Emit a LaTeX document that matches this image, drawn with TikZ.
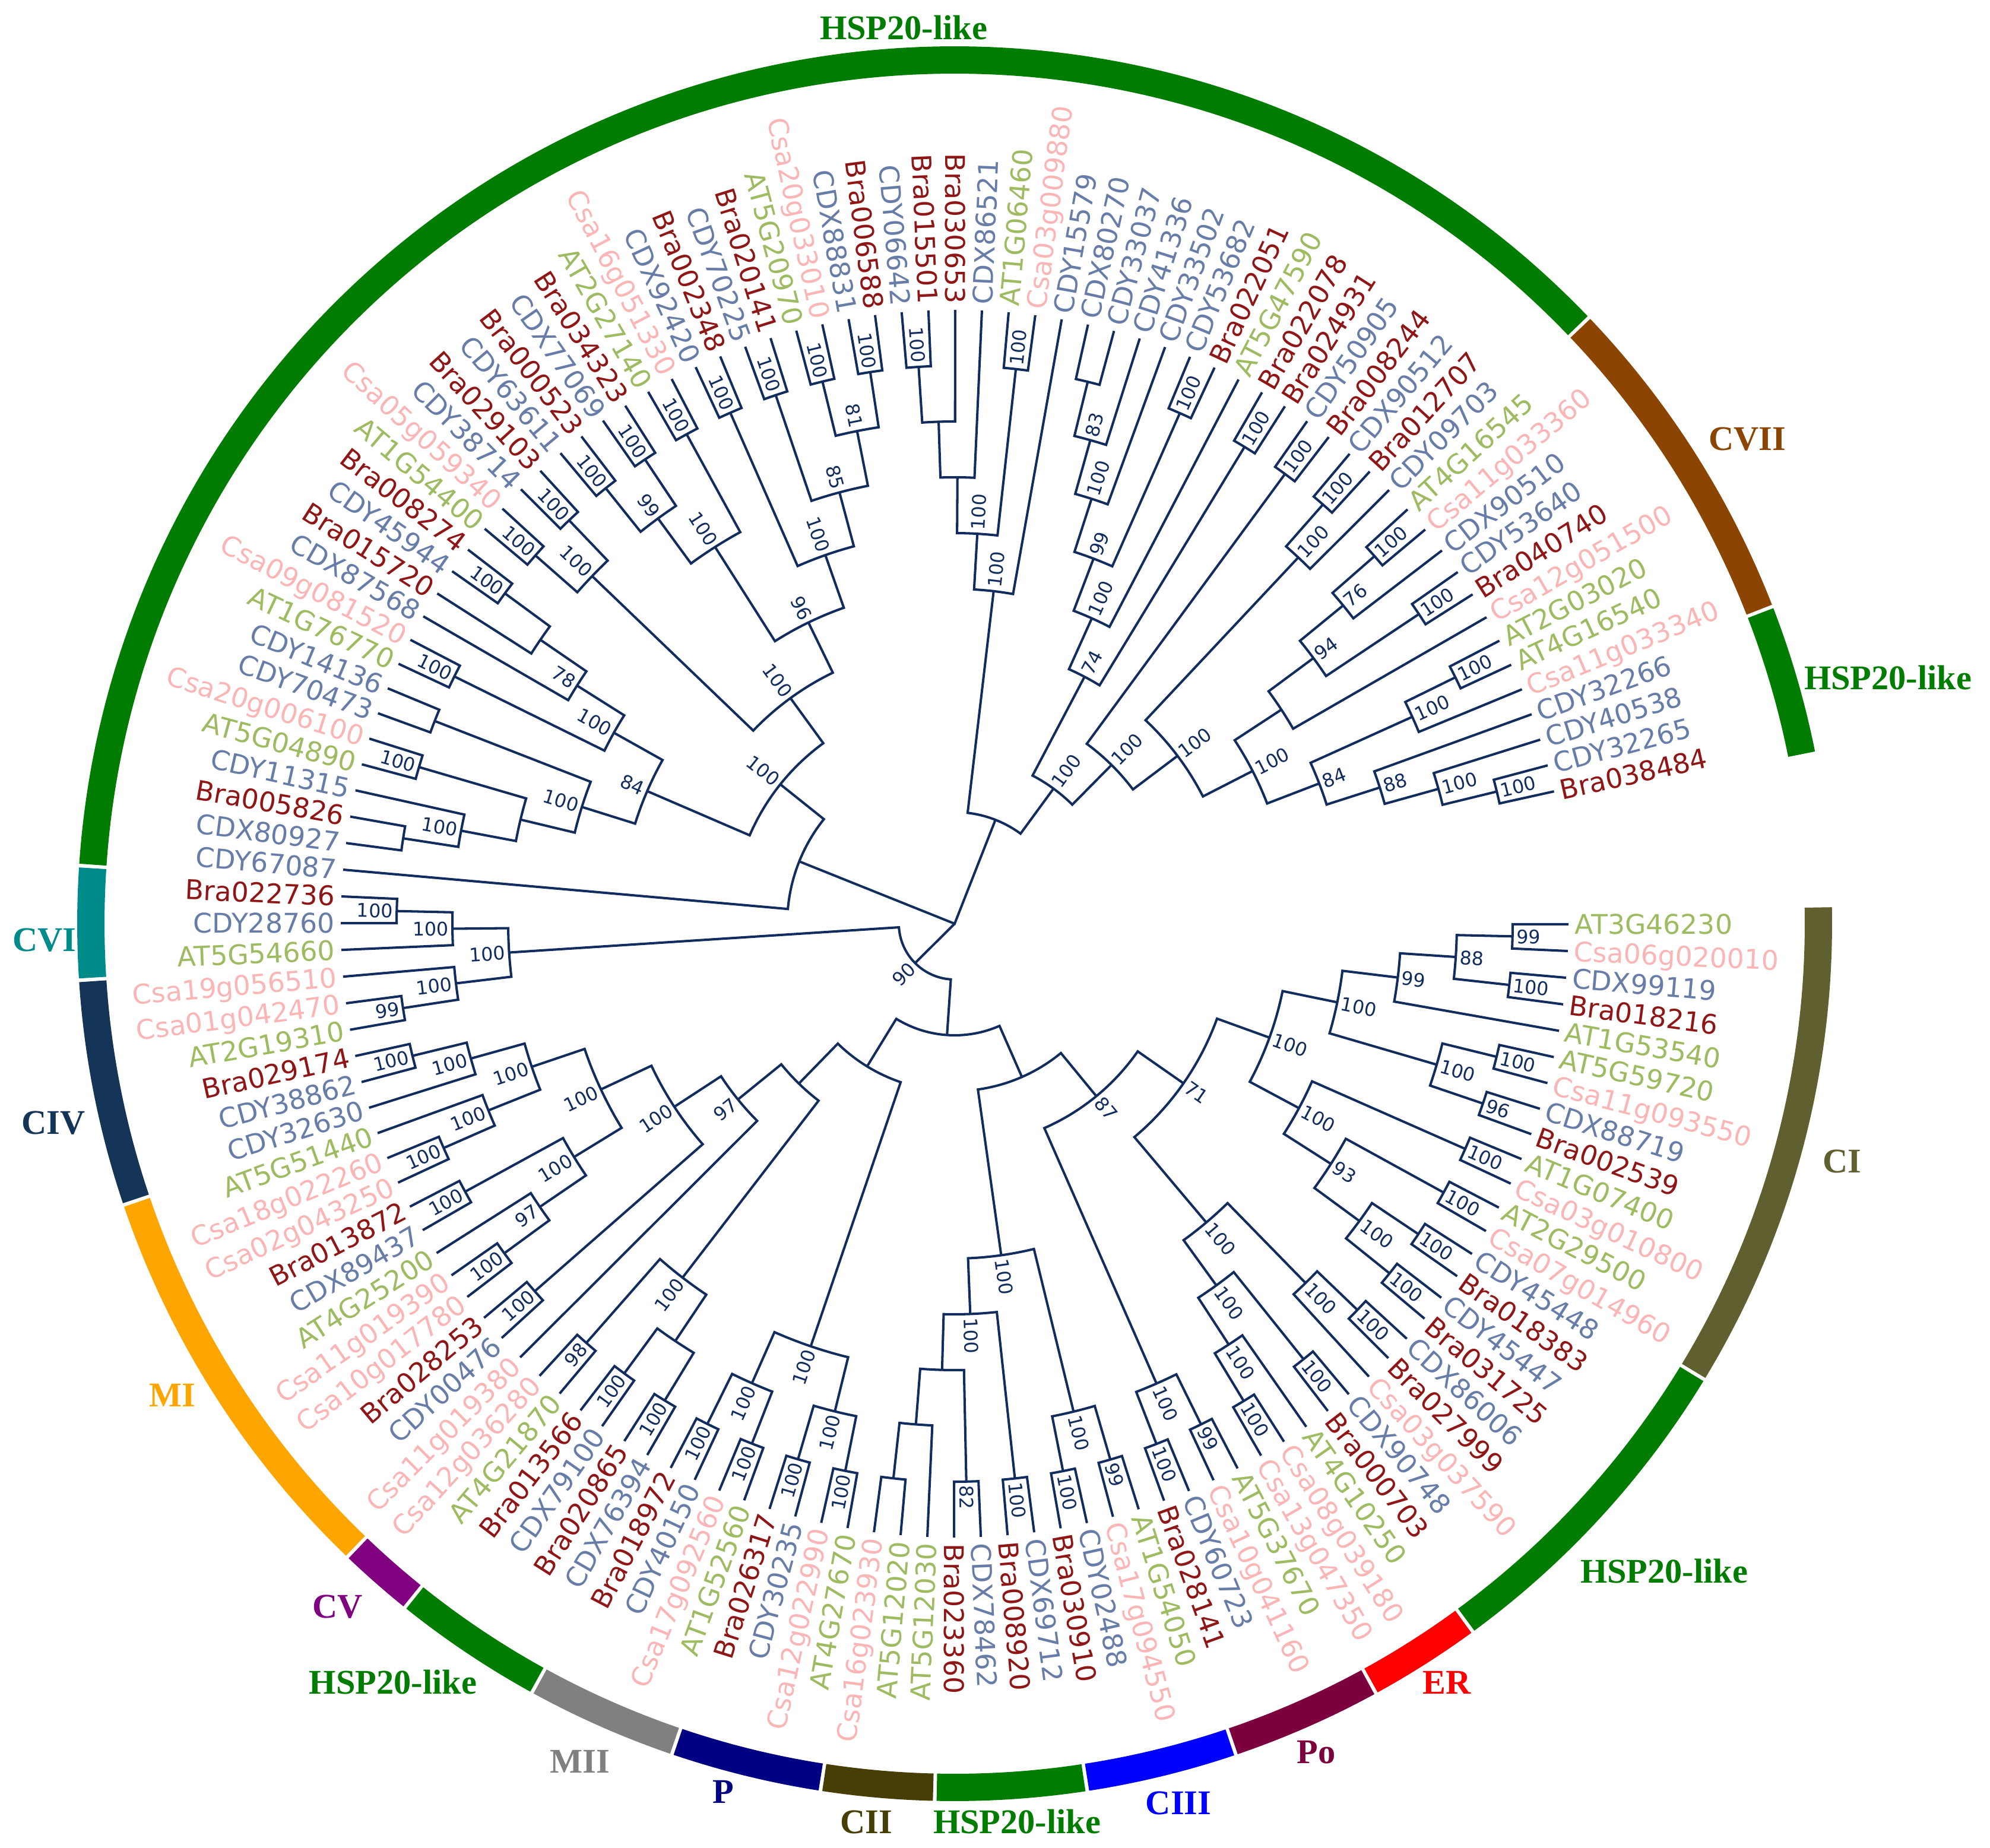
\documentclass[tikz,border=0pt]{standalone}
\usepackage{fontspec}
\usepackage{tikz}
\newfontfamily\leaffont{DejaVu Sans}
\newfontfamily\ringfont{Liberation Serif}

\definecolor{treeblue}{RGB}{18,44,94}
\definecolor{atcol}{RGB}{158,187,98}
\definecolor{csacol}{RGB}{250,182,182}
\definecolor{bracol}{RGB}{142,22,22}
\definecolor{cdcol}{RGB}{104,124,168}
\definecolor{hspcol}{RGB}{0,125,0}
\definecolor{cviicol}{RGB}{139,69,0}
\definecolor{cicol}{RGB}{95,95,48}
\definecolor{ercol}{RGB}{255,0,0}
\definecolor{pocol}{RGB}{125,0,62}
\definecolor{ciiicol}{RGB}{0,0,255}
\definecolor{ciicol}{RGB}{70,62,5}
\definecolor{pcol}{RGB}{0,0,130}
\definecolor{miicol}{RGB}{128,128,128}
\definecolor{cvcol}{RGB}{128,0,128}
\definecolor{micol}{RGB}{255,165,0}
\definecolor{civcol}{RGB}{20,52,88}
\definecolor{cvicol}{RGB}{0,139,139}

% circle geometry (cm, centre of the tree at the origin)
\newcommand{\tiprad}{10.34}
\newcommand{\levstep}{0.94}
\newcommand{\leafstart}{12.45}
\newcommand{\leafstep}{2.5}
\newcommand{\ringrad}{14.55}

% text set along the radius, flipped on the left half
\newcommand{\radlabel}[5]{%
  \pgfmathsetmacro{\rlrot}{#2}%
  \ifdim#2pt>89.9pt
    \ifdim#2pt<269.9pt
      \pgfmathsetmacro{\rlrot}{#2-180}%
      \node[#4,anchor=east,rotate=\rlrot] (#1) at (#2:#3) {#5};
    \else
      \node[#4,anchor=west,rotate=\rlrot] (#1) at (#2:#3) {#5};
    \fi
  \else
    \node[#4,anchor=west,rotate=\rlrot] (#1) at (#2:#3) {#5};
  \fi}

% leaf: index, name, style
\newcommand{\addleaf}[3]{%
  \pgfmathsetmacro{\lfa}{\leafstart+(#1-1)*\leafstep}%
  \expandafter\xdef\csname ang@L#1\endcsname{\lfa}%
  \coordinate (L#1) at (\lfa:\tiprad);
  \pgfmathsetmacro{\lfr}{\tiprad+0.1}%
  \radlabel{lab#1}{\lfa}{\lfr}{#3}{#2}}

% clade: name, level, child a, child b, support
\newcommand{\addclade}[5]{%
  \edef\clA{\csname ang@#3\endcsname}\edef\clB{\csname ang@#4\endcsname}%
  \pgfmathsetmacro{\clM}{(\clA+\clB)/2}%
  \pgfmathsetmacro{\clR}{\tiprad-#2*\levstep}%
  \expandafter\xdef\csname ang@#1\endcsname{\clM}%
  \coordinate (#1) at (\clM:\clR);
  \draw[branch] (#3) -- (\clA:\clR) arc[start angle=\clA,end angle=\clB,radius=\clR] -- (#4);
  \ifx\relax#5\relax\else
    \pgfmathsetmacro{\clL}{\clR+0.06}%
    \radlabel{b#1}{\clM}{\clL}{bootlab}{#5}%
  \fi}

% coloured band: first leaf, last leaf, colour
\newcommand{\addring}[3]{%
  \pgfmathsetmacro{\rgA}{\leafstart+(#1-1)*\leafstep-1.13}%
  \pgfmathsetmacro{\rgB}{\leafstart+(#2-1)*\leafstep+1.13}%
  \draw[ringarc,draw=#3] (\rgA:\ringrad) arc[start angle=\rgA,end angle=\rgB,radius=\ringrad];}

\begin{document}
\begin{tikzpicture}[
    branch/.style={draw=treeblue,line width=1.15pt},
% leaf labels
    leaftext/.style={inner sep=0pt,text height=9.5pt,text depth=0pt,
		font=\leaffont\fontsize{13pt}{15pt}\selectfont},
    atleaf/.style={leaftext,text=atcol},
    csaleaf/.style={leaftext,text=csacol},
    braleaf/.style={leaftext,text=bracol},
    cdleaf/.style={leaftext,text=cdcol},
    bootlab/.style={inner sep=0pt,text height=6.6pt,text depth=0pt,text=treeblue,
		font=\leaffont\fontsize{9pt}{11pt}\selectfont},
    ringlab/.style={inner sep=0pt,font=\ringfont\bfseries\fontsize{16.6pt}{20pt}\selectfont}
    ]

  \tikzstyle{ringarc} = [line width=0.46cm]

  \useasboundingbox (-16.08,-15.56) rectangle (17.44,15.56);

  % leaves, counter-clockwise from the gap on the right
  \addleaf{1}{Bra038484}{braleaf} \addleaf{2}{CDY32265}{cdleaf} \addleaf{3}{CDY40538}{cdleaf}
  \addleaf{4}{CDY32266}{cdleaf} \addleaf{5}{Csa11g033340}{csaleaf} \addleaf{6}{AT4G16540}{atleaf}
  \addleaf{7}{AT2G03020}{atleaf} \addleaf{8}{Csa12g051500}{csaleaf} \addleaf{9}{Bra040740}{braleaf}
  \addleaf{10}{CDY53640}{cdleaf} \addleaf{11}{CDX90510}{cdleaf} \addleaf{12}{Csa11g033360}{csaleaf}
  \addleaf{13}{AT4G16545}{atleaf} \addleaf{14}{CDY09703}{cdleaf} \addleaf{15}{Bra012707}{braleaf}
  \addleaf{16}{CDX90512}{cdleaf} \addleaf{17}{Bra008244}{braleaf} \addleaf{18}{CDY50905}{cdleaf}
  \addleaf{19}{Bra024931}{braleaf} \addleaf{20}{Bra022078}{braleaf} \addleaf{21}{AT5G47590}{atleaf}
  \addleaf{22}{Bra022051}{braleaf} \addleaf{23}{CDY53682}{cdleaf} \addleaf{24}{CDY33502}{cdleaf}
  \addleaf{25}{CDY41336}{cdleaf} \addleaf{26}{CDY33037}{cdleaf} \addleaf{27}{CDX80270}{cdleaf}
  \addleaf{28}{CDY15579}{cdleaf} \addleaf{29}{Csa03g009880}{csaleaf} \addleaf{30}{AT1G06460}{atleaf}
  \addleaf{31}{CDX86521}{cdleaf} \addleaf{32}{Bra030653}{braleaf} \addleaf{33}{Bra015501}{braleaf}
  \addleaf{34}{CDY06642}{cdleaf} \addleaf{35}{Bra006588}{braleaf} \addleaf{36}{CDX88831}{cdleaf}
  \addleaf{37}{Csa20g033010}{csaleaf} \addleaf{38}{AT5G20970}{atleaf} \addleaf{39}{Bra020141}{braleaf}
  \addleaf{40}{CDY70225}{cdleaf} \addleaf{41}{Bra002348}{braleaf} \addleaf{42}{CDX92420}{cdleaf}
  \addleaf{43}{Csa16g051330}{csaleaf} \addleaf{44}{AT2G27140}{atleaf} \addleaf{45}{Bra034323}{braleaf}
  \addleaf{46}{CDX77069}{cdleaf} \addleaf{47}{Bra000523}{braleaf} \addleaf{48}{CDY63611}{cdleaf}
  \addleaf{49}{Bra029103}{braleaf} \addleaf{50}{CDY38714}{cdleaf} \addleaf{51}{Csa05g059340}{csaleaf}
  \addleaf{52}{AT1G54400}{atleaf} \addleaf{53}{Bra008274}{braleaf} \addleaf{54}{CDY45944}{cdleaf}
  \addleaf{55}{Bra015720}{braleaf} \addleaf{56}{CDX87568}{cdleaf} \addleaf{57}{Csa09g081520}{csaleaf}
  \addleaf{58}{AT1G76770}{atleaf} \addleaf{59}{CDY14136}{cdleaf} \addleaf{60}{CDY70473}{cdleaf}
  \addleaf{61}{Csa20g006100}{csaleaf} \addleaf{62}{AT5G04890}{atleaf} \addleaf{63}{CDY11315}{cdleaf}
  \addleaf{64}{Bra005826}{braleaf} \addleaf{65}{CDX80927}{cdleaf} \addleaf{66}{CDY67087}{cdleaf}
  \addleaf{67}{Bra022736}{braleaf} \addleaf{68}{CDY28760}{cdleaf} \addleaf{69}{AT5G54660}{atleaf}
  \addleaf{70}{Csa19g056510}{csaleaf} \addleaf{71}{Csa01g042470}{csaleaf} \addleaf{72}{AT2G19310}{atleaf}
  \addleaf{73}{Bra029174}{braleaf} \addleaf{74}{CDY38862}{cdleaf} \addleaf{75}{CDY32630}{cdleaf}
  \addleaf{76}{AT5G51440}{atleaf} \addleaf{77}{Csa18g022260}{csaleaf} \addleaf{78}{Csa02g043250}{csaleaf}
  \addleaf{79}{Bra013872}{braleaf} \addleaf{80}{CDX89437}{cdleaf} \addleaf{81}{AT4G25200}{atleaf}
  \addleaf{82}{Csa11g019390}{csaleaf} \addleaf{83}{Csa10g017780}{csaleaf} \addleaf{84}{Bra028253}{braleaf}
  \addleaf{85}{CDY00476}{cdleaf} \addleaf{86}{Csa11g019380}{csaleaf} \addleaf{87}{Csa12g036280}{csaleaf}
  \addleaf{88}{AT4G21870}{atleaf} \addleaf{89}{Bra013566}{braleaf} \addleaf{90}{CDX79100}{cdleaf}
  \addleaf{91}{Bra020865}{braleaf} \addleaf{92}{CDX76394}{cdleaf} \addleaf{93}{Bra018972}{braleaf}
  \addleaf{94}{CDY40150}{cdleaf} \addleaf{95}{Csa17g092560}{csaleaf} \addleaf{96}{AT1G52560}{atleaf}
  \addleaf{97}{Bra026317}{braleaf} \addleaf{98}{CDY30235}{cdleaf} \addleaf{99}{Csa12g022990}{csaleaf}
  \addleaf{100}{AT4G27670}{atleaf} \addleaf{101}{Csa16g023930}{csaleaf} \addleaf{102}{AT5G12020}{atleaf}
  \addleaf{103}{AT5G12030}{atleaf} \addleaf{104}{Bra023360}{braleaf} \addleaf{105}{CDX78462}{cdleaf}
  \addleaf{106}{Bra008920}{braleaf} \addleaf{107}{CDX69712}{cdleaf} \addleaf{108}{Bra030910}{braleaf}
  \addleaf{109}{CDY02488}{cdleaf} \addleaf{110}{Csa17g094550}{csaleaf} \addleaf{111}{AT1G54050}{atleaf}
  \addleaf{112}{Bra028141}{braleaf} \addleaf{113}{CDY60723}{cdleaf} \addleaf{114}{Csa10g041160}{csaleaf}
  \addleaf{115}{AT5G37670}{atleaf} \addleaf{116}{Csa13g047350}{csaleaf} \addleaf{117}{Csa08g039180}{csaleaf}
  \addleaf{118}{AT4G10250}{atleaf} \addleaf{119}{Bra000703}{braleaf} \addleaf{120}{CDX90748}{cdleaf}
  \addleaf{121}{Csa03g037590}{csaleaf} \addleaf{122}{Bra027999}{braleaf} \addleaf{123}{CDX86006}{cdleaf}
  \addleaf{124}{Bra031725}{braleaf} \addleaf{125}{CDY45447}{cdleaf} \addleaf{126}{Bra018383}{braleaf}
  \addleaf{127}{CDY45448}{cdleaf} \addleaf{128}{Csa07g014960}{csaleaf} \addleaf{129}{AT2G29500}{atleaf}
  \addleaf{130}{Csa03g010800}{csaleaf} \addleaf{131}{AT1G07400}{atleaf} \addleaf{132}{Bra002539}{braleaf}
  \addleaf{133}{CDX88719}{cdleaf} \addleaf{134}{Csa11g093550}{csaleaf} \addleaf{135}{AT5G59720}{atleaf}
  \addleaf{136}{AT1G53540}{atleaf} \addleaf{137}{Bra018216}{braleaf} \addleaf{138}{CDX99119}{cdleaf}
  \addleaf{139}{Csa06g020010}{csaleaf} \addleaf{140}{AT3G46230}{atleaf}

  % upper right clades
  \addclade{n1}{1}{L1}{L2}{100}
  \addclade{n2}{2}{n1}{L3}{100}
  \addclade{n3}{3}{n2}{L4}{88}
  \addclade{n4}{1}{L6}{L7}{100}
  \addclade{n5}{2}{L5}{n4}{100}
  \addclade{n6}{4}{n3}{n5}{84}
  \addclade{n7}{1}{L9}{L10}{100}
  \addclade{n8}{1}{L12}{L13}{100}
  \addclade{n9}{2}{L11}{n8}{76}
  \addclade{n10}{3}{n7}{n9}{94}
  \addclade{n11}{4}{L8}{n10}{}
  \addclade{n12}{5}{n6}{n11}{100}
  \addclade{n13}{1}{L15}{L16}{100}
  \addclade{n14}{2}{L14}{n13}{100}
  \addclade{n15}{6}{n12}{n14}{100}
  \addclade{n16}{1}{L17}{L18}{100}
  \addclade{n17}{7}{n15}{n16}{100}
  \addclade{n18}{1}{L19}{L20}{100}
  \addclade{n19}{1}{L22}{L23}{100}
  \addclade{n20}{1}{L26}{L27}{}
  \addclade{n21}{2}{L25}{n20}{83}
  \addclade{n22}{3}{L24}{n21}{100}
  \addclade{n23}{4}{n19}{n22}{99}
  \addclade{n24}{5}{L21}{n23}{100}
  \addclade{n25}{6}{n18}{n24}{74}
  \addclade{n26}{8}{n17}{n25}{100}
  \addclade{n27}{1}{L33}{L34}{100}
  \addclade{n28}{2}{L32}{n27}{}
  \addclade{n29}{3}{L31}{n28}{}
  \addclade{n30}{1}{L29}{L30}{100}
  \addclade{n31}{4}{n30}{n29}{100}
  \addclade{n32}{5}{L28}{n31}{100}
  \addclade{n33}{9}{n26}{n32}{}

  % upper left clades
  \addclade{n34}{1}{L35}{L36}{100}
  \addclade{n35}{1}{L37}{L38}{100}
  \addclade{n36}{2}{n34}{n35}{81}
  \addclade{n37}{1}{L39}{L40}{100}
  \addclade{n38}{3}{n36}{n37}{85}
  \addclade{n39}{1}{L41}{L42}{100}
  \addclade{n40}{4}{n38}{n39}{100}
  \addclade{n41}{1}{L43}{L44}{100}
  \addclade{n42}{1}{L45}{L46}{100}
  \addclade{n43}{1}{L47}{L48}{100}
  \addclade{n44}{2}{n42}{n43}{99}
  \addclade{n45}{3}{n41}{n44}{100}
  \addclade{n46}{5}{n40}{n45}{96}
  \addclade{n47}{1}{L49}{L50}{100}
  \addclade{n48}{1}{L51}{L52}{100}
  \addclade{n49}{2}{n47}{n48}{100}
  \addclade{n50}{6}{n46}{n49}{100}
  \addclade{n51}{1}{L53}{L54}{100}
  \addclade{n52}{2}{n51}{L55}{}
  \addclade{n53}{3}{n52}{L56}{78}
  \addclade{n54}{1}{L57}{L58}{100}
  \addclade{n55}{4}{n53}{n54}{100}
  \addclade{n56}{1}{L59}{L60}{}
  \addclade{n57}{1}{L61}{L62}{100}
  \addclade{n58}{1}{L64}{L65}{}
  \addclade{n59}{2}{L63}{n58}{100}
  \addclade{n60}{3}{n57}{n59}{}
  \addclade{n61}{4}{n56}{n60}{100}
  \addclade{n62}{5}{n55}{n61}{84}
  \addclade{n63}{7}{n50}{n62}{100}
  \addclade{n64}{8}{n63}{L66}{}

  % CVI, CIV, MI, CV ... on the left and bottom
  \addclade{n65}{1}{L67}{L68}{100}
  \addclade{n66}{2}{n65}{L69}{100}
  \addclade{n67}{1}{L71}{L72}{99}
  \addclade{n68}{2}{L70}{n67}{100}
  \addclade{n69}{3}{n66}{n68}{100}
  \addclade{n70}{1}{L73}{L74}{100}
  \addclade{n71}{2}{n70}{L75}{100}
  \addclade{n72}{1}{L77}{L78}{100}
  \addclade{n73}{2}{L76}{n72}{100}
  \addclade{n74}{3}{n71}{n73}{100}
  \addclade{n75}{1}{L79}{L80}{100}
  \addclade{n76}{1}{L82}{L83}{100}
  \addclade{n77}{2}{L81}{n76}{97}
  \addclade{n78}{3}{n75}{n77}{100}
  \addclade{n79}{4}{n74}{n78}{100}
  \addclade{n80}{1}{L84}{L85}{100}
  \addclade{n81}{5}{n79}{n80}{100}
  \addclade{n82}{6}{n81}{L86}{97}
  \addclade{n83}{1}{L87}{L88}{98}
  \addclade{n84}{1}{L89}{L90}{100}
  \addclade{n85}{1}{L91}{L92}{100}
  \addclade{n86}{2}{n84}{n85}{}
  \addclade{n87}{3}{n83}{n86}{100}
  \addclade{n88}{7}{n82}{n87}{}
  \addclade{n89}{1}{L93}{L94}{100}
  \addclade{n90}{1}{L95}{L96}{100}
  \addclade{n91}{2}{n89}{n90}{100}
  \addclade{n92}{1}{L97}{L98}{100}
  \addclade{n93}{1}{L99}{L100}{100}
  \addclade{n94}{2}{n92}{n93}{100}
  \addclade{n95}{3}{n91}{n94}{100}
  \addclade{n96}{8}{n88}{n95}{}

  % bottom and lower right clades
  \addclade{n97}{1}{L101}{L102}{}
  \addclade{n98}{2}{n97}{L103}{}
  \addclade{n99}{1}{L104}{L105}{82}
  \addclade{n100}{3}{n98}{n99}{}
  \addclade{n101}{1}{L106}{L107}{100}
  \addclade{n102}{4}{n100}{n101}{100}
  \addclade{n103}{1}{L108}{L109}{100}
  \addclade{n104}{1}{L110}{L111}{99}
  \addclade{n105}{2}{n103}{n104}{100}
  \addclade{n106}{5}{n102}{n105}{100}
  \addclade{n107}{1}{L112}{L113}{100}
  \addclade{n108}{1}{L114}{L115}{99}
  \addclade{n109}{2}{n107}{n108}{100}
  \addclade{n110}{1}{L116}{L117}{100}
  \addclade{n111}{2}{n110}{L118}{100}
  \addclade{n112}{1}{L119}{L120}{100}
  \addclade{n113}{3}{n111}{n112}{100}
  \addclade{n114}{1}{L122}{L123}{100}
  \addclade{n115}{2}{L121}{n114}{100}
  \addclade{n116}{4}{n113}{n115}{100}
  \addclade{n117}{1}{L124}{L125}{100}
  \addclade{n118}{1}{L126}{L127}{100}
  \addclade{n119}{2}{n117}{n118}{100}
  \addclade{n120}{1}{L128}{L129}{100}
  \addclade{n121}{3}{n120}{n119}{93}
  \addclade{n122}{1}{L130}{L131}{100}
  \addclade{n123}{4}{n122}{n121}{100}
  \addclade{n124}{1}{L132}{L133}{96}
  \addclade{n125}{1}{L134}{L135}{100}
  \addclade{n126}{2}{n124}{n125}{100}
  \addclade{n127}{1}{L137}{L138}{100}
  \addclade{n128}{1}{L139}{L140}{99}
  \addclade{n129}{2}{n127}{n128}{88}
  \addclade{n130}{3}{L136}{n129}{99}
  \addclade{n131}{4}{n126}{n130}{100}
  \addclade{n132}{5}{n123}{n131}{100}
  \addclade{n133}{6}{n116}{n132}{71}
  \addclade{n134}{7}{n109}{n133}{87}
  \addclade{n135}{8}{n106}{n134}{}
  \addclade{n136}{9}{n96}{n135}{}
  \addclade{n137}{10}{n69}{n136}{90}

  % root
  \coordinate (root) at (0,0);
  \draw[branch] (n33) -- (root) -- (n64);
  \draw[branch] (root) -- (n137);

  % outer band
  \addring{1}{4}{hspcol}
  \addring{5}{13}{cviicol}
  \addring{14}{66}{hspcol}
  \addring{67}{69}{cvicol}
  \addring{70}{75}{civcol}
  \addring{76}{86}{micol}
  \addring{87}{88}{cvcol}
  \addring{89}{92}{hspcol}
  \addring{93}{96}{miicol}
  \addring{97}{100}{pcol}
  \addring{101}{103}{ciicol}
  \addring{104}{107}{hspcol}
  \addring{108}{111}{ciiicol}
  \addring{112}{115}{pocol}
  \addring{116}{118}{ercol}
  \addring{119}{127}{hspcol}
  \addring{128}{140}{cicol}

  \node (g1) [ringlab,text=hspcol] at (-0.86,15.09) {HSP20-like};
  \node (g2) [ringlab,text=cviicol] at (13.35,8.16) {CVII};
  \node (g3) [ringlab,text=hspcol] at (15.72,4.14) {HSP20-like};
  \node (g4) [ringlab,text=cicol] at (14.95,-4.0) {CI};
  \node (g5) [ringlab,text=hspcol] at (11.95,-10.91) {HSP20-like};
  \node (g6) [ringlab,text=ercol] at (8.29,-12.78) {ER};
  \node (g7) [ringlab,text=pocol] at (6.09,-13.96) {Po};
  \node (g8) [ringlab,text=ciiicol] at (3.77,-14.81) {CIII};
  \node (g9) [ringlab,text=hspcol] at (1.05,-15.13) {HSP20-like};
  \node (g10) [ringlab,text=ciicol] at (-1.49,-15.13) {CII};
  \node (g11) [ringlab,text=pcol] at (-3.90,-14.62) {P};
  \node (g12) [ringlab,text=miicol] at (-6.31,-14.11) {MII};
  \node (g13) [ringlab,text=hspcol] at (-9.46,-12.78) {HSP20-like};
  \node (g14) [ringlab,text=cvcol] at (-10.39,-11.51) {CV};
  \node (g15) [ringlab,text=micol] at (-13.18,-7.94) {MI};
  \node (g16) [ringlab,text=civcol] at (-15.18,-3.36) {CIV};
  \node (g17) [ringlab,text=cvicol] at (-15.33,-0.28) {CVI};

\end{tikzpicture}
\end{document}
